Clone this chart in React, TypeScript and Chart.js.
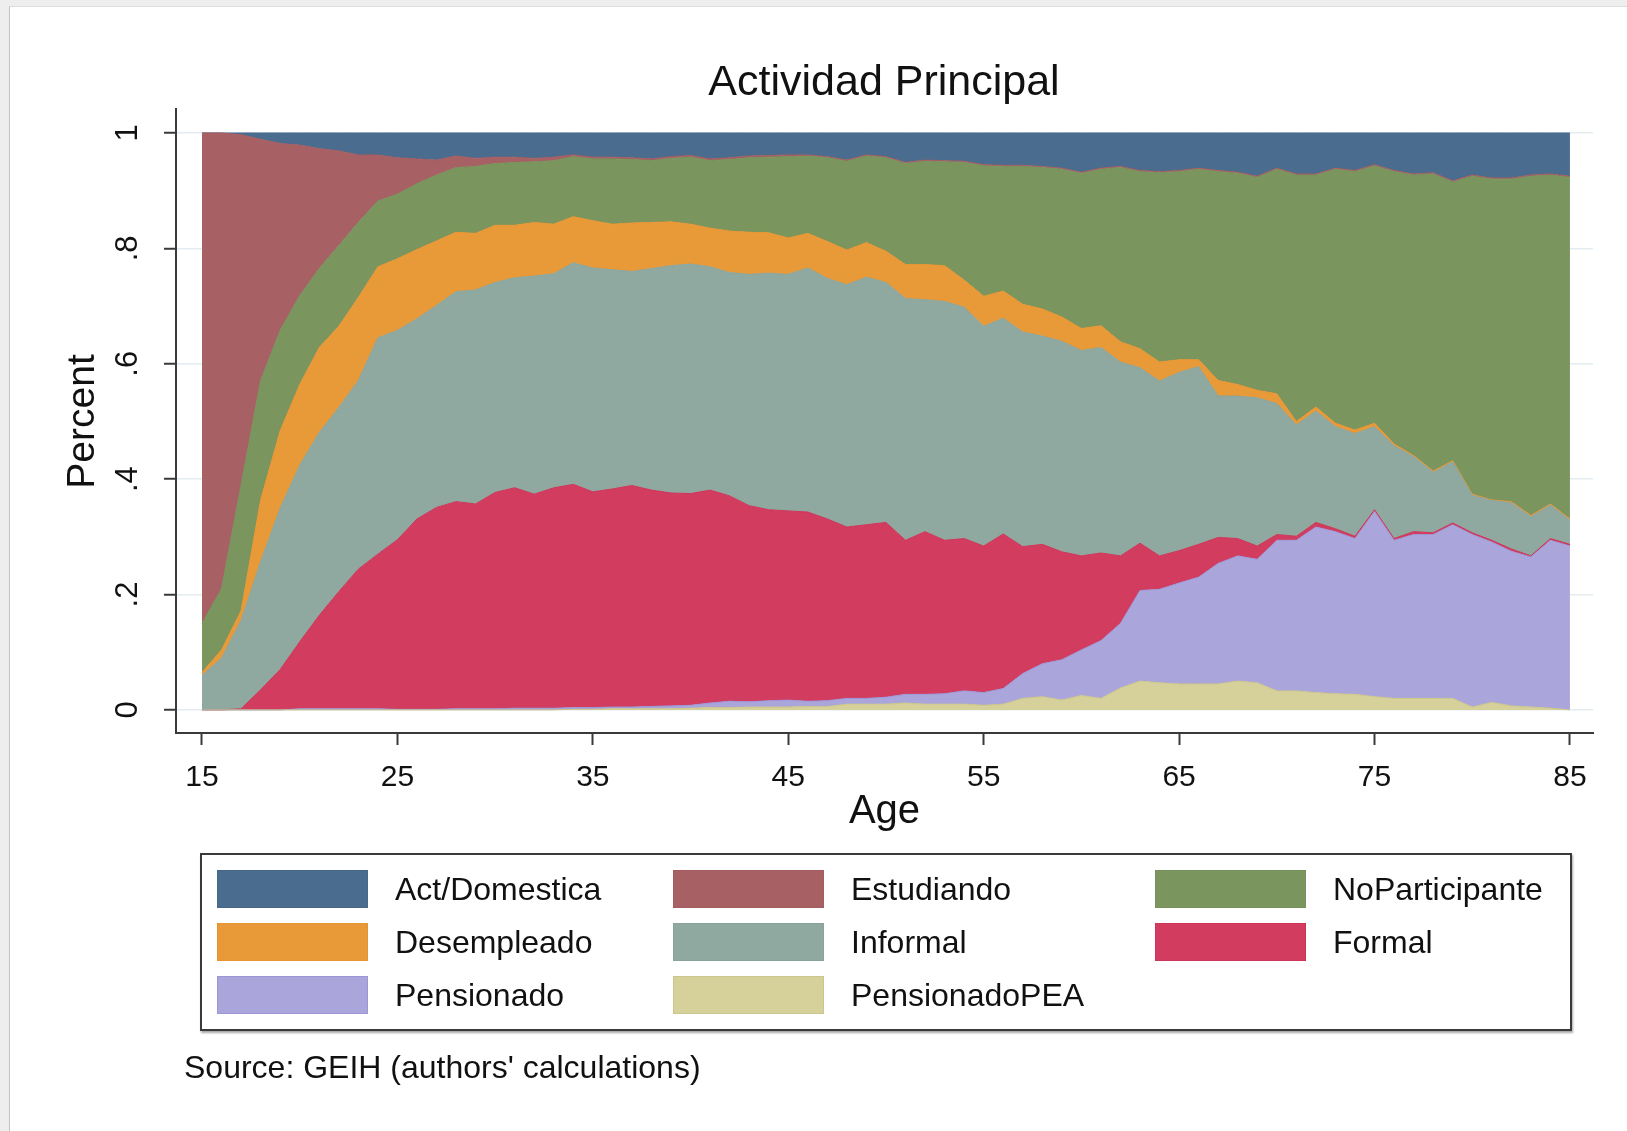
import { useEffect, useRef } from "react";
import { Chart, registerables } from "chart.js";

Chart.register(...registerables);

const FONT = '"Liberation Sans", Arial, Helvetica, sans-serif';

const ages = [
  15, 16, 17, 18, 19, 20, 21, 22, 23, 24,
  25, 26, 27, 28, 29, 30, 31, 32, 33, 34,
  35, 36, 37, 38, 39, 40, 41, 42, 43, 44,
  45, 46, 47, 48, 49, 50, 51, 52, 53, 54,
  55, 56, 57, 58, 59, 60, 61, 62, 63, 64,
  65, 66, 67, 68, 69, 70, 71, 72, 73, 74,
  75, 76, 77, 78, 79, 80, 81, 82, 83, 84,
  85,
];

const xTicks = [15, 25, 35, 45, 55, 65, 75, 85];
const yTicks = [0, 0.2, 0.4, 0.6, 0.8, 1];
const yTickLabels = ["0", ".2", ".4", ".6", ".8", "1"];

// shares by age (stack order bottom -> top)
const pensionadoPEA = [
  0, 0, 0, 0, 0, 0, 0, 0, 0, 0,
  0, 0, 0, 0, 0, 0, 0, 0, 0, 0.001,
  0.001, 0.002, 0.002, 0.002, 0.002, 0.003, 0.004, 0.004, 0.005, 0.005,
  0.005, 0.006, 0.006, 0.01, 0.01, 0.01, 0.012, 0.01, 0.01, 0.01,
  0.008, 0.01, 0.02, 0.023, 0.017, 0.025, 0.02, 0.038, 0.05, 0.047,
  0.045, 0.045, 0.045, 0.05, 0.047, 0.033, 0.033, 0.03, 0.028, 0.027,
  0.023, 0.02, 0.02, 0.02, 0.02, 0.005, 0.013, 0.007, 0.005, 0.003,
  0,
];
const pensionado = [
  0, 0, 0, 0, 0, 0.002, 0.002, 0.002, 0.002, 0.002,
  0.001, 0.001, 0.001, 0.002, 0.002, 0.002, 0.003, 0.003, 0.003, 0.003,
  0.003, 0.003, 0.003, 0.004, 0.005, 0.005, 0.008, 0.011, 0.009, 0.011,
  0.012, 0.009, 0.01, 0.01, 0.01, 0.012, 0.015, 0.017, 0.018, 0.023,
  0.022, 0.027, 0.043, 0.057, 0.07, 0.079, 0.1, 0.112, 0.157, 0.162,
  0.175, 0.185, 0.209, 0.217, 0.214, 0.261, 0.261, 0.287, 0.281, 0.27,
  0.321, 0.274, 0.284, 0.284, 0.301, 0.299, 0.278, 0.268, 0.26, 0.291,
  0.284,
];
const formal = [
  0, 0, 0.002, 0.035, 0.07, 0.116, 0.162, 0.203, 0.242, 0.268,
  0.294, 0.33, 0.35, 0.359, 0.355, 0.375, 0.382, 0.371, 0.382, 0.387,
  0.374, 0.378, 0.384, 0.375, 0.369, 0.367, 0.369, 0.356, 0.34, 0.331,
  0.328, 0.328, 0.315, 0.297, 0.301, 0.303, 0.267, 0.282, 0.266, 0.264,
  0.254, 0.268, 0.22, 0.207, 0.187, 0.163, 0.152, 0.117, 0.082, 0.058,
  0.056, 0.057, 0.045, 0.03, 0.023, 0.01, 0.007, 0.008, 0.005, 0.004,
  0.003, 0.003, 0.005, 0.003, 0.003, 0.003, 0.003, 0.004, 0.002, 0.003,
  0.003,
];
const informal = [
  0.06, 0.09, 0.153, 0.222, 0.28, 0.306, 0.317, 0.319, 0.327, 0.375,
  0.363, 0.347, 0.35, 0.364, 0.371, 0.364, 0.364, 0.378, 0.371, 0.384,
  0.388, 0.38, 0.371, 0.384, 0.394, 0.398, 0.387, 0.387, 0.401, 0.41,
  0.41, 0.423, 0.417, 0.42, 0.429, 0.416, 0.419, 0.402, 0.414, 0.401,
  0.381, 0.374, 0.372, 0.361, 0.365, 0.356, 0.356, 0.336, 0.304, 0.303,
  0.309, 0.308, 0.245, 0.247, 0.257, 0.227, 0.193, 0.193, 0.177, 0.178,
  0.144, 0.161, 0.13, 0.105, 0.106, 0.065, 0.069, 0.08, 0.068, 0.058,
  0.042,
];
const desempleado = [
  0.005, 0.014, 0.017, 0.107, 0.134, 0.14, 0.147, 0.141, 0.144, 0.123,
  0.124, 0.12, 0.112, 0.103, 0.098, 0.099, 0.091, 0.093, 0.086, 0.08,
  0.082, 0.079, 0.084, 0.08, 0.076, 0.069, 0.067, 0.072, 0.073, 0.07,
  0.063, 0.06, 0.064, 0.06, 0.06, 0.054, 0.059, 0.061, 0.062, 0.047,
  0.052, 0.047, 0.048, 0.047, 0.042, 0.038, 0.038, 0.035, 0.033, 0.033,
  0.022, 0.012, 0.027, 0.02, 0.013, 0.017, 0.006, 0.007, 0.006, 0.006,
  0.006, 0.003, 0.002, 0.002, 0.002, 0.002, 0.001, 0.002, 0.002, 0.002,
  0.002,
];
const noParticipante = [
  0.085, 0.106, 0.218, 0.207, 0.174, 0.154, 0.137, 0.14, 0.13, 0.114,
  0.112, 0.114, 0.114, 0.112, 0.116, 0.107, 0.109, 0.105, 0.11, 0.104,
  0.107, 0.113, 0.11, 0.107, 0.11, 0.116, 0.117, 0.124, 0.129, 0.131,
  0.141, 0.134, 0.145, 0.154, 0.15, 0.162, 0.175, 0.179, 0.18, 0.204,
  0.226, 0.216, 0.239, 0.245, 0.256, 0.269, 0.271, 0.302, 0.307, 0.328,
  0.326, 0.33, 0.362, 0.366, 0.369, 0.389, 0.427, 0.402, 0.44, 0.448,
  0.446, 0.472, 0.486, 0.515, 0.483, 0.551, 0.556, 0.559, 0.588, 0.57,
  0.592,
];
const estudiando = [
  0.85, 0.79, 0.607, 0.418, 0.324, 0.261, 0.208, 0.164, 0.117, 0.08,
  0.063, 0.043, 0.026, 0.02, 0.014, 0.011, 0.009, 0.006, 0.006, 0.003,
  0.003, 0.003, 0.003, 0.003, 0.003, 0.003, 0.003, 0.003, 0.003, 0.003,
  0.003, 0.002, 0.002, 0.002, 0.002, 0.002, 0.002, 0.002, 0.002, 0.002,
  0.002, 0.002, 0.002, 0.002, 0.002, 0.002, 0.002, 0.002, 0.002, 0.002,
  0.002, 0.002, 0.002, 0.002, 0.002, 0.002, 0.002, 0.002, 0.002, 0.002,
  0.002, 0.002, 0.002, 0.002, 0.002, 0.002, 0.002, 0.002, 0.002, 0.002,
  0.002,
];
const actDomestica = [
  0, 0, 0.003, 0.011, 0.018, 0.021, 0.027, 0.031, 0.038, 0.038,
  0.043, 0.045, 0.047, 0.04, 0.044, 0.042, 0.042, 0.044, 0.042, 0.038,
  0.042, 0.042, 0.043, 0.045, 0.041, 0.039, 0.045, 0.043, 0.04, 0.039,
  0.038, 0.038, 0.041, 0.047, 0.038, 0.041, 0.051, 0.047, 0.048, 0.049,
  0.055, 0.056, 0.056, 0.058, 0.061, 0.068, 0.061, 0.058, 0.065, 0.067,
  0.065, 0.061, 0.065, 0.068, 0.075, 0.061, 0.071, 0.071, 0.061, 0.065,
  0.055, 0.065, 0.071, 0.069, 0.083, 0.073, 0.078, 0.078, 0.073, 0.071,
  0.075,
];

const seriesDefs = [
  { label: "PensionadoPEA", data: pensionadoPEA, fill: "#d6d09a", line: "#cdc68a" },
  { label: "Pensionado", data: pensionado, fill: "#aaa6dc", line: "#9c96d6" },
  { label: "Formal", data: formal, fill: "#d13c5f", line: "#cc3458" },
  { label: "Informal", data: informal, fill: "#8fa8a0", line: "#8aa49b" },
  { label: "Desempleado", data: desempleado, fill: "#e99a38", line: "#e69431" },
  { label: "NoParticipante", data: noParticipante, fill: "#7a955d", line: "#76915a" },
  { label: "Estudiando", data: estudiando, fill: "#a76165", line: "#a35c60" },
  { label: "Act/Domestica", data: actDomestica, fill: "#4a6d8f", line: "#46698b" },
];

const legendRows = [
  ["Act/Domestica", "Estudiando", "NoParticipante"],
  ["Desempleado", "Informal", "Formal"],
  ["Pensionado", "PensionadoPEA"],
];

const AXIS = "#3a3a3a";

export default function App() {
  const ref = useRef<HTMLCanvasElement>(null);

  useEffect(() => {
    const canvas = ref.current;
    if (!canvas) return;

    const textPlugin = {
      id: "stataText",
      afterDraw(chart: any) {
        const ctx = chart.ctx;
        const ys = chart.scales.y;
        const xs = chart.scales.x;
        ctx.save();
        ctx.fillStyle = "#111";
        ctx.textAlign = "center";
        ctx.textBaseline = "middle";
        ctx.font = `31px ${FONT}`;
        yTicks.forEach((v, i) => {
          const py = ys.getPixelForValue(v);
          ctx.save();
          ctx.translate(128, py);
          ctx.rotate(-Math.PI / 2);
          ctx.fillText(yTickLabels[i], 0, 0);
          ctx.restore();
        });
        ctx.font = `39px ${FONT}`;
        const cy = (ys.getPixelForValue(0) + ys.getPixelForValue(1)) / 2;
        ctx.save();
        ctx.translate(83, cy);
        ctx.rotate(-Math.PI / 2);
        ctx.fillText("Percent", 0, 0);
        ctx.restore();
        ctx.font = `40px ${FONT}`;
        ctx.fillText("Age", (xs.left + xs.right) / 2, 812);
        ctx.restore();
      },
    };

    const chart = new Chart(canvas, {
      type: "line",
      data: {
        datasets: seriesDefs.map((s, i) => ({
          label: s.label,
          data: ages.map((a, k) => ({ x: a, y: s.data[k] })),
          backgroundColor: s.fill,
          borderColor: s.line,
          borderWidth: 1,
          pointRadius: 0,
          pointHoverRadius: 0,
          tension: 0,
          fill: i === 0 ? "origin" : "-1",
        })),
      },
      options: {
        animation: false,
        responsive: false,
        events: [],
        layout: { padding: { left: 0, right: 34, top: 109, bottom: 0 } },
        plugins: {
          legend: { display: false },
          tooltip: { enabled: false },
          title: { display: false },
        },
        scales: {
          x: {
            type: "linear",
            min: 13.67,
            max: 86.18,
            afterBuildTicks: (s: any) => {
              s.ticks = xTicks.map((v) => ({ value: v }));
            },
            afterFit: (s: any) => {
              s.height = 1131 - 733;
            },
            grid: {
              drawOnChartArea: false,
              drawTicks: true,
              tickLength: 12,
              tickWidth: 2,
              tickColor: AXIS,
            },
            border: { display: true, color: AXIS, width: 2 },
            ticks: {
              font: { family: FONT, size: 30 },
              color: "#111",
              padding: 15,
              maxRotation: 0,
              minRotation: 0,
              autoSkip: false,
              callback: (v: any) => String(v),
            },
          },
          y: {
            type: "linear",
            stacked: true,
            min: -0.04,
            max: 1.0416,
            afterBuildTicks: (s: any) => {
              s.ticks = yTicks.map((v) => ({ value: v }));
            },
            afterFit: (s: any) => {
              s.width = 176;
            },
            grid: {
              color: "#e3ecf0",
              lineWidth: 1.5,
              drawTicks: true,
              tickLength: 12,
              tickWidth: 2,
              tickColor: AXIS,
            },
            border: { display: true, color: AXIS, width: 2 },
            ticks: { display: false },
          },
        },
      },
      plugins: [textPlugin],
    } as any);

    return () => chart.destroy();
  }, []);

  const colorOf = (label: string) => seriesDefs.find((s) => s.label === label)!;
  const colSwatchX = [217, 673, 1155];
  const colTextX = [395, 851, 1333];
  const rowCY = [889, 942, 995];

  return (
    <div
      style={{
        position: "absolute",
        left: 0,
        top: 0,
        width: 1627,
        height: 1131,
        background: "#eeeeee",
        overflow: "hidden",
        fontFamily: FONT,
      }}
    >
      <div
        style={{
          position: "absolute",
          left: 9,
          top: 6,
          right: 0,
          bottom: 0,
          background: "#ffffff",
          borderLeft: "1px solid #c4c4c4",
          borderTop: "1px solid #dddddd",
        }}
      />
      <canvas
        ref={ref}
        width={1627}
        height={1131}
        style={{ position: "absolute", left: 0, top: 0, width: 1627, height: 1131 }}
      />
      <div
        style={{
          position: "absolute",
          left: 884,
          top: 80,
          transform: "translate(-50%, -50%)",
          fontSize: 43,
          lineHeight: 1,
          color: "#111",
          whiteSpace: "nowrap",
        }}
      >
        Actividad Principal
      </div>
      <div
        style={{
          position: "absolute",
          left: 200,
          top: 853,
          width: 1372,
          height: 178,
          boxSizing: "border-box",
          border: "2px solid #3a3a3a",
          boxShadow: "1px 2px 2px rgba(0,0,0,0.35)",
          background: "#fff",
        }}
      />
      {legendRows.map((row, r) =>
        row.map((label, c) => {
          const s = colorOf(label);
          return (
            <div key={label}>
              <div
                style={{
                  position: "absolute",
                  left: colSwatchX[c],
                  top: rowCY[r] - 19,
                  width: 151,
                  height: 38,
                  boxSizing: "border-box",
                  background: s.fill,
                  border: `1.5px solid ${s.line}`,
                }}
              />
              <div
                style={{
                  position: "absolute",
                  left: colTextX[c],
                  top: rowCY[r],
                  transform: "translateY(-50%)",
                  fontSize: 32,
                  lineHeight: 1,
                  color: "#111",
                  whiteSpace: "nowrap",
                }}
              >
                {label}
              </div>
            </div>
          );
        })
      )}
      <div
        style={{
          position: "absolute",
          left: 184,
          top: 1067,
          transform: "translateY(-50%)",
          fontSize: 32,
          lineHeight: 1,
          color: "#111",
          whiteSpace: "nowrap",
        }}
      >
        Source: GEIH (authors' calculations)
      </div>
    </div>
  );
}
